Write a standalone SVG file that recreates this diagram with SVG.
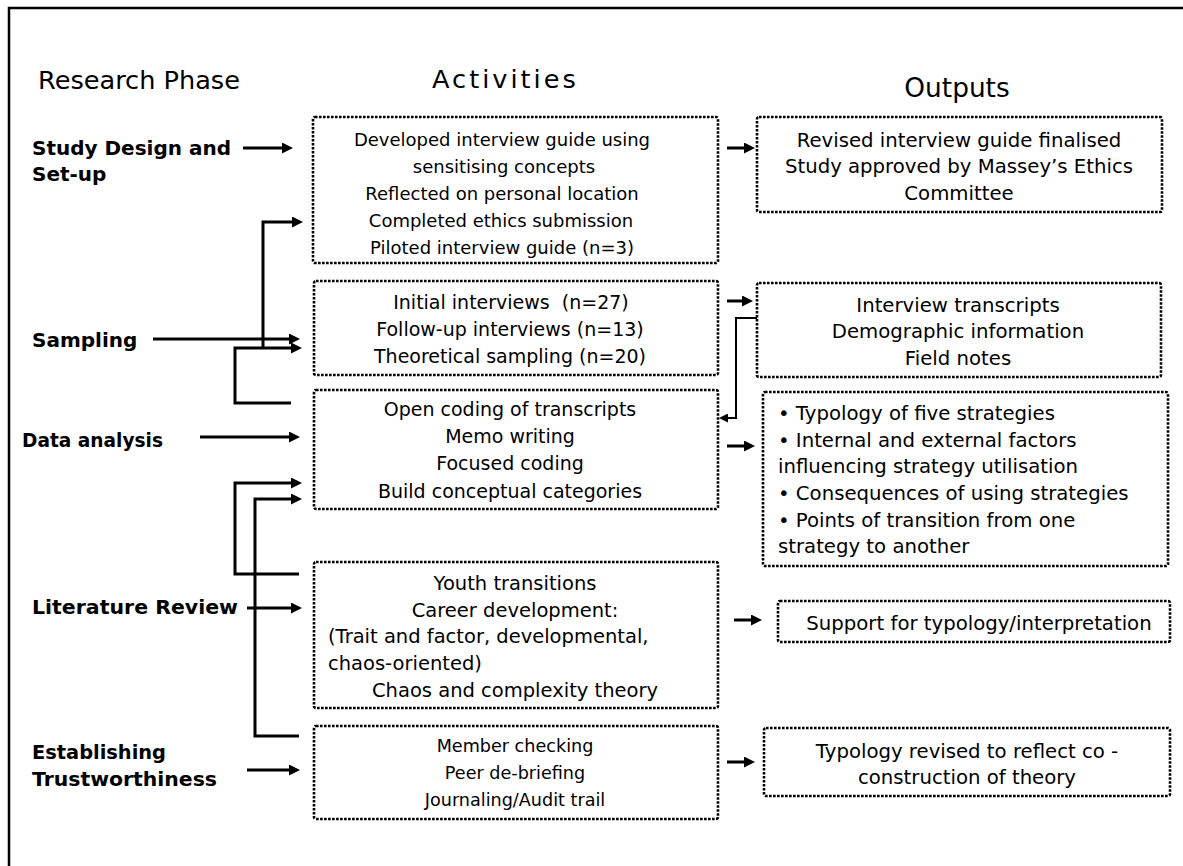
<svg xmlns="http://www.w3.org/2000/svg" width="1183" height="866" viewBox="0 0 1183 866">
<style>
.frame{fill:none;stroke:#000;stroke-width:2.5}
.box{fill:#fff;stroke:#000;stroke-width:2.6;stroke-dasharray:2.6 1.4}
.t{font-family:"DejaVu Sans","Verdana",sans-serif;font-size:18px;fill:#000}
.o{font-size:19.7px}
.m{font-size:19px}
.l{font-size:19.5px}
.s{font-size:17.6px}
.c{text-anchor:middle}
.h{font-family:"DejaVu Sans","Verdana",sans-serif;font-size:25.6px;fill:#000}
.p{font-family:"DejaVu Sans","Verdana",sans-serif;font-size:20px;font-weight:bold;fill:#000}
.ln{fill:none;stroke:#000;stroke-width:3}
.thin{fill:none;stroke:#000;stroke-width:2}
</style>
<defs>
<marker id="ah" markerUnits="userSpaceOnUse" markerWidth="12" markerHeight="11" refX="1" refY="5.5" orient="auto">
<path d="M0,0 L11,5.5 L0,11 Z" fill="#000"/>
</marker>
<marker id="ahs" markerUnits="userSpaceOnUse" markerWidth="10" markerHeight="9" refX="1" refY="4.5" orient="auto">
<path d="M0,0 L9,4.5 L0,9 Z" fill="#000"/>
</marker>
</defs>
<rect x="0" y="0" width="1183" height="866" fill="#fff"/>
<rect class="frame" x="9" y="8" width="1190" height="880"/>

<g id="headers">
<text class="h" x="38" y="89">Research Phase</text>
<text class="h" x="432" y="88" letter-spacing="3">Activities</text>
<text class="h c" x="957" y="97" style="font-size:26.4px">Outputs</text>
</g>

<g id="phase-study-design">
<text class="p" x="32" y="155">Study Design and</text>
<text class="p" x="32" y="181">Set-up</text>
</g>
<g id="phase-sampling"><text class="p" x="32" y="347">Sampling</text></g>
<g id="phase-data-analysis"><text class="p" x="22" y="447" textLength="141" lengthAdjust="spacingAndGlyphs">Data analysis</text></g>
<g id="phase-literature"><text class="p" x="32" y="614" textLength="206" lengthAdjust="spacingAndGlyphs">Literature Review</text></g>
<g id="phase-trust">
<text class="p" x="32" y="759" textLength="134" lengthAdjust="spacingAndGlyphs">Establishing</text>
<text class="p" x="32" y="786" textLength="185" lengthAdjust="spacingAndGlyphs">Trustworthiness</text>
</g>

<g id="act-study-design">
<rect class="box" x="313" y="117" width="405" height="146" rx="2"/>
<text class="t c" x="502" y="146">Developed interview guide using</text>
<text class="t c" x="504" y="173">sensitising concepts</text>
<text class="t c" x="502" y="200">Reflected on personal location</text>
<text class="t c" x="501" y="227">Completed ethics submission</text>
<text class="t c" x="502" y="254">Piloted interview guide (n=3)</text>
</g>
<g id="act-sampling">
<rect class="box" x="314" y="281" width="404" height="94" rx="2"/>
<text class="t m c" x="511" y="309" xml:space="preserve">Initial interviews  (n=27)</text>
<text class="t m c" x="510" y="336">Follow-up interviews (n=13)</text>
<text class="t m c" x="510" y="363">Theoretical sampling (n=20)</text>
</g>
<g id="act-data-analysis">
<rect class="box" x="314" y="390" width="404" height="119" rx="2"/>
<text class="t m c" x="510" y="416">Open coding of transcripts</text>
<text class="t m c" x="510" y="443">Memo writing</text>
<text class="t m c" x="510" y="470">Focused coding</text>
<text class="t m c" x="510" y="498">Build conceptual categories</text>
</g>
<g id="act-literature">
<rect class="box" x="314" y="562" width="404" height="146" rx="2"/>
<text class="t l c" x="515" y="590">Youth transitions</text>
<text class="t l c" x="515" y="617">Career development:</text>
<text class="t l" x="328" y="643">(Trait and factor, developmental,</text>
<text class="t l" x="328" y="670">chaos-oriented)</text>
<text class="t l" x="372" y="697">Chaos and complexity theory</text>
</g>
<g id="act-trust">
<rect class="box" x="314" y="726" width="404" height="93" rx="2"/>
<text class="t s c" x="515" y="752">Member checking</text>
<text class="t s c" x="515" y="779">Peer de-briefing</text>
<text class="t s c" x="515" y="806">Journaling/Audit trail</text>
</g>

<g id="out-study-design">
<rect class="box" x="757" y="117" width="405" height="95" rx="2"/>
<text class="t o c" x="959" y="147">Revised interview guide finalised</text>
<text class="t o c" x="959" y="173">Study approved by Massey’s Ethics</text>
<text class="t o c" x="959" y="200">Committee</text>
</g>
<g id="out-sampling">
<rect class="box" x="757" y="283" width="404" height="94" rx="2"/>
<text class="t o c" x="958" y="312">Interview transcripts</text>
<text class="t o c" x="958" y="338">Demographic information</text>
<text class="t o c" x="958" y="365">Field notes</text>
</g>
<g id="out-data-analysis">
<rect class="box" x="763" y="392" width="405" height="174" rx="2"/>
<text class="t o" x="778" y="420">• Typology of five strategies</text>
<text class="t o" x="778" y="447">• Internal and external factors</text>
<text class="t o" x="778" y="473">influencing strategy utilisation</text>
<text class="t o" x="778" y="500">• Consequences of using strategies</text>
<text class="t o" x="778" y="527">• Points of transition from one</text>
<text class="t o" x="778" y="553">strategy to another</text>
</g>
<g id="out-literature">
<rect class="box" x="778" y="601" width="392" height="41" rx="2"/>
<text class="t o c" x="979" y="630">Support for typology/interpretation</text>
</g>
<g id="out-trust">
<rect class="box" x="764" y="728" width="406" height="68" rx="2"/>
<text class="t o c" x="967" y="758">Typology revised to reflect co -</text>
<text class="t o c" x="967" y="784">construction of theory</text>
</g>

<g id="connectors">
<line class="ln" x1="243" y1="148" x2="283" y2="148" marker-end="url(#ah)"/>
<line class="ln" x1="153" y1="339" x2="290" y2="339" marker-end="url(#ah)"/>
<path class="ln" d="M291,403 H235 V348 H292" marker-end="url(#ah)"/>
<path class="ln" d="M263,348 V222 H293" marker-end="url(#ah)"/>
<line class="ln" x1="200" y1="437" x2="290" y2="437" marker-end="url(#ah)"/>
<path class="ln" d="M299,574 H235 V483 H292" marker-end="url(#ah)"/>
<path class="ln" d="M299,736 H255 V499 H292" marker-end="url(#ah)"/>
<line class="ln" x1="247" y1="608" x2="292" y2="608" marker-end="url(#ah)"/>
<line class="ln" x1="247" y1="770" x2="290" y2="770" marker-end="url(#ah)"/>
<line class="ln" x1="727" y1="148" x2="745" y2="148" marker-end="url(#ah)"/>
<line class="ln" x1="727" y1="301" x2="743" y2="301" marker-end="url(#ah)"/>
<line class="ln" x1="727" y1="446" x2="745" y2="446" marker-end="url(#ah)"/>
<line class="ln" x1="734" y1="620" x2="752" y2="620" marker-end="url(#ah)"/>
<line class="ln" x1="727" y1="762" x2="745" y2="762" marker-end="url(#ah)"/>
<path class="thin" d="M757,318 H736 V418 H727" marker-end="url(#ahs)"/>
</g>
</svg>
